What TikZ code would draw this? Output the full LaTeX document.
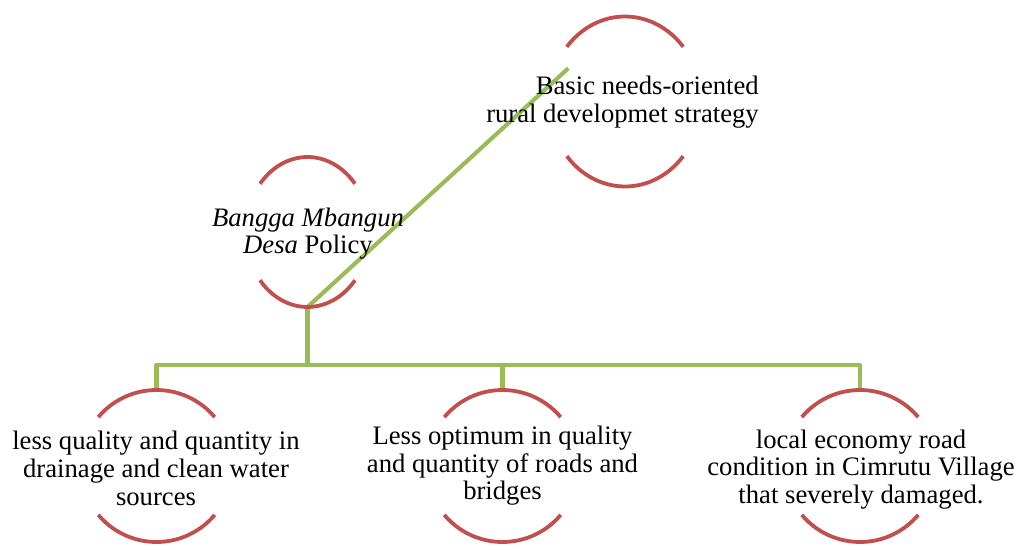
\documentclass[tikz,border=0pt]{standalone}
\usepackage{fontspec}
\setmainfont{Liberation Serif}
\usetikzlibrary{calc}
\definecolor{arcred}{HTML}{C0504D}
\definecolor{linegreen}{HTML}{9BBB59}
\newcommand\ringarcs[3]{%
  \draw[arcline] ($(#1)+(40:#2 and #3)$) arc[start angle=40,end angle=140,x radius=#2,y radius=#3];
  \draw[arcline] ($(#1)+(220:#2 and #3)$) arc[start angle=220,end angle=320,x radius=#2,y radius=#3];}
\begin{document}
\begin{tikzpicture}[x=0.75pt,y=0.75pt,
  arcline/.style={draw=arcred,line width=2.85pt,line cap=butt},
  conn/.style={draw=linegreen,line width=3.1pt,line join=round,line cap=butt},
  txt/.style={inner sep=0pt,font=\fontsize{20}{20.8}\selectfont,text=black}]
\useasboundingbox (0,0) rectangle (1016,-549);
% circle centres
\coordinate (tr) at (625,-101.5);
\coordinate (bg) at (307.5,-232);
\coordinate (bl) at (156.5,-466);
\coordinate (bm) at (502.5,-466);
\coordinate (br) at (860,-466);
% connection points
\coordinate (bgbot) at ($(bg)+(0,-75)$);
\coordinate (bltop) at ($(bl)+(0,76)$);
\coordinate (bmtop) at ($(bm)+(0,76)$);
\coordinate (brtop) at ($(br)+(0,76)$);
\coordinate (bus) at (307.5,-365);
\coordinate (diagend) at (568.3,-68.3);
% connectors
\draw[conn] (bgbot) -- (diagend);
\draw[conn] (bgbot) -- (bus);
\draw[conn] (bltop) |- (bus) -| (brtop);
\draw[conn] (bmtop) -- (bmtop |- bus);
% rings
\ringarcs{tr}{76}{85}
\ringarcs{bg}{62}{75}
\ringarcs{bl}{76}{76}
\ringarcs{bm}{76}{76}
\ringarcs{br}{76}{76}
% texts
\node[txt,align=right,anchor=east] (trtext) at (759,-102) {Basic needs-oriented\\rural developmet strategy};
\node[txt,align=center] (bgtext) at (308,-233.5) {\textit{Bangga Mbangun}\\\textit{Desa} Policy};
\node[txt,align=center] (bltext) at (156,-468.6) {less quality and quantity in\\drainage and clean water\\sources};
\node[txt,align=center] (bmtext) at (502.5,-465.8) {Less optimum in quality\\and quantity of roads and\\bridges};
\node[txt,align=center] (brtext) at (861,-469.5) {local economy road\\condition in Cimrutu Village\\that severely damaged.};
\end{tikzpicture}
\end{document}
